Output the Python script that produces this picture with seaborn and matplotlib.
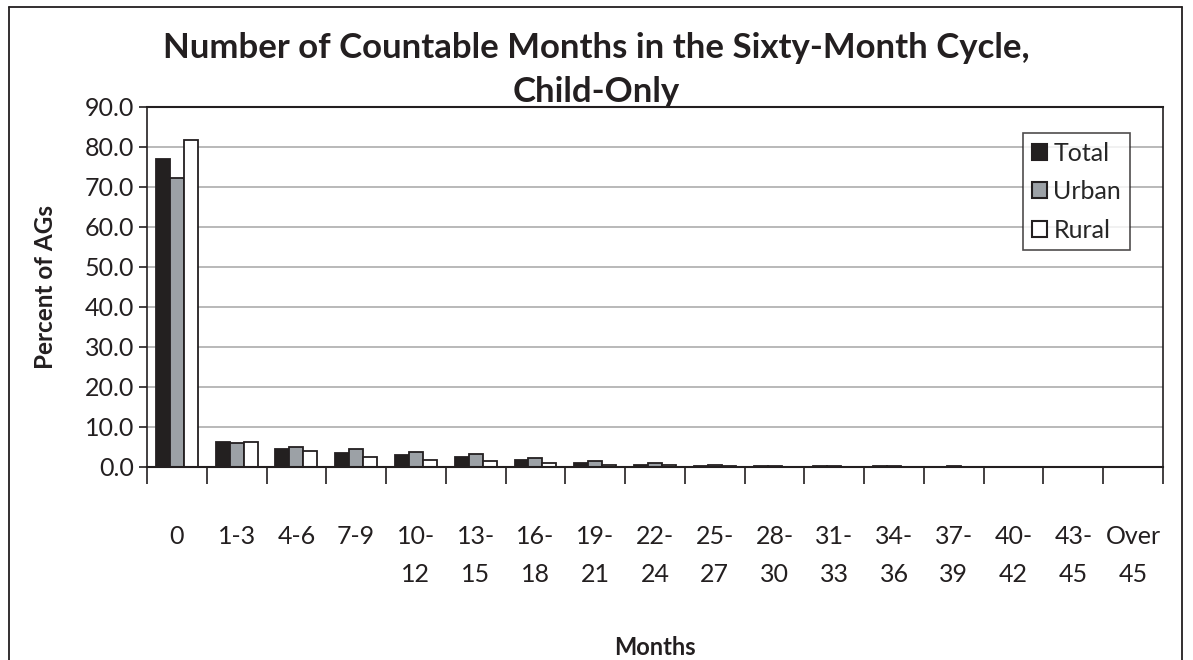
import matplotlib
matplotlib.use("Agg")
import matplotlib.pyplot as plt
from matplotlib.lines import Line2D
import numpy as np
import pandas as pd
import seaborn as sns

categories = ["0", "1-3", "4-6", "7-9", "10-\n12", "13-\n15", "16-\n18", "19-\n21",
              "22-\n24", "25-\n27", "28-\n30", "31-\n33", "34-\n36", "37-\n39",
              "40-\n42", "43-\n45", "Over\n45"]
total = [77.0, 6.2, 4.6, 3.6, 2.9, 2.5, 1.7, 1.0, 0.6, 0.3, 0.2, 0.2, 0.2, 0.1, 0.0, 0.0, 0.0]
urban = [72.2, 6.0, 5.1, 4.4, 3.8, 3.2, 2.3, 1.5, 0.9, 0.4, 0.2, 0.2, 0.3, 0.2, 0.0, 0.0, 0.0]
rural = [81.8, 6.3, 3.9, 2.5, 1.8, 1.5, 0.9, 0.5, 0.4, 0.2, 0.1, 0.1, 0.1, 0.1, 0.0, 0.0, 0.0]
series = ["Total", "Urban", "Rural"]
colors = ["#231f20", "#9aa1a8", "#ffffff"]

df = pd.DataFrame({
    "Months": categories * 3,
    "Percent": total + urban + rural,
    "Series": [s for s in series for _ in categories],
})

sns.set_style("white")
plt.rcParams["font.family"] = ["Lato", "DejaVu Sans"]

W, H = 1193, 660
fig = plt.figure(figsize=(W / 100, H / 100), dpi=100)
ax = fig.add_axes([147 / W, 1 - 467 / H, (1163 - 147) / W, (467 - 107) / H])

sns.barplot(data=df, x="Months", y="Percent", hue="Series", hue_order=series,
            palette=colors, order=categories, width=0.7, gap=0,
            edgecolor="#231f20", linewidth=1.3, ax=ax, legend=True)

n = len(categories)
ax.set_xlim(-0.5, n - 0.5)
ax.set_ylim(0, 90)
yt = np.arange(0, 91, 10)
ax.set_yticks(yt)
ax.set_yticklabels([f"{v:.1f}" for v in yt], fontsize=18, color="#231f20")
ax.yaxis.grid(True, color="#b3b3b3", linewidth=1.3)
ax.set_axisbelow(True)
ax.tick_params(axis="y", length=6, width=1.2, color="#231f20", pad=3, left=True)

ax.set_xticks(range(n))
ax.set_xticklabels(categories, fontsize=18, color="#231f20", linespacing=1.75)
ax.tick_params(axis="x", which="major", length=0, pad=42)
ax.set_xticks(np.arange(-0.5, n, 1), minor=True)
ax.tick_params(axis="x", which="minor", length=12, width=1.2, color="#231f20", bottom=True)

for side in ["left", "top", "right"]:
    ax.spines[side].set_visible(True)
    ax.spines[side].set_color("#231f20")
    ax.spines[side].set_linewidth(1.2)
ax.spines["bottom"].set_color("#231f20")
ax.spines["bottom"].set_linewidth(1.5)
ax.spines["top"].set_linewidth(1.5)

ax.set_xlabel("Months", fontsize=17, fontweight="bold", color="#231f20", labelpad=36)
ax.set_ylabel("Percent of AGs", fontsize=17.5, fontweight="bold", color="#231f20", labelpad=20)

leg = ax.legend(loc="upper right", bbox_to_anchor=(0.9675, 0.928), fontsize=18,
                frameon=True, fancybox=False, edgecolor="#231f20",
                handlelength=0.6, handleheight=0.6, handletextpad=0.25,
                labelspacing=0.62, borderpad=0.35, borderaxespad=0)
leg.get_frame().set_linewidth(1.2)
for h in leg.legend_handles:
    h.set_edgecolor("#231f20")
    h.set_linewidth(1.5)

fig.text(0.5, 1 - 70 / H, "Number of Countable Months in the Sixty-Month Cycle,\nChild-Only",
         ha="center", va="center", fontsize=25, fontweight="bold", color="#231f20",
         linespacing=1.5)

# outer frame
fx0, fx1, fy1 = 9 / W, 1182 / W, 1 - 7 / H
for xs, ys in [([fx0, fx0], [0, fy1]), ([fx0, fx1], [fy1, fy1]), ([fx1, fx1], [0, fy1])]:
    fig.add_artist(Line2D(xs, ys, color="#231f20", linewidth=1.3, transform=fig.transFigure))

fig.savefig("out.png", dpi=100)
